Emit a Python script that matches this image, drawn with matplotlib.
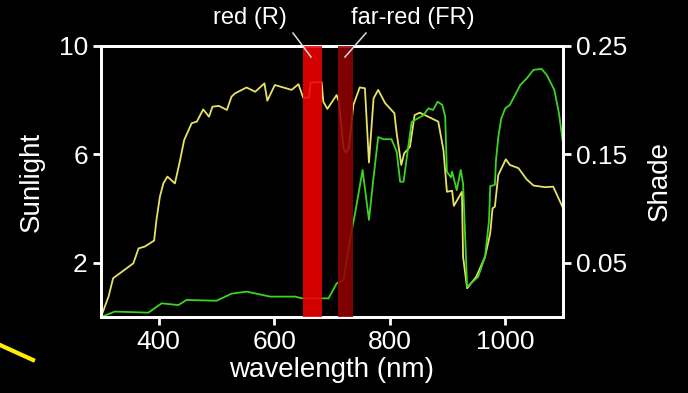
import matplotlib
matplotlib.use("Agg")
import matplotlib.pyplot as plt
from matplotlib.lines import Line2D

# ---- data ----
sun_nm = [300, 313, 321, 356, 365, 376, 392, 396, 402, 408,
          415, 428, 437, 444, 457, 466, 477, 487, 493, 504,
          518, 526, 532, 552, 567, 583, 588, 601, 630, 642,
          650, 660, 663, 682, 685, 692, 708, 712, 720, 724,
          729, 737, 748, 757, 764, 772, 780, 792, 808, 812,
          820, 825, 835, 843, 852, 884, 893, 899, 908, 911,
          925, 927, 934, 950, 965, 974, 978, 982, 988, 1001,
          1008, 1023, 1037, 1049, 1069, 1083, 1099]
sun_val = [0.0, 0.75, 1.43, 1.98, 2.53, 2.6, 2.82, 3.58, 4.44, 4.93,
           5.18, 4.93, 5.79, 6.53, 7.15, 7.21, 7.66, 7.39, 7.76, 7.79,
           7.64, 8.13, 8.25, 8.47, 8.31, 8.62, 7.98, 8.56, 8.38, 8.59,
           8.1, 8.09, 8.65, 8.67, 7.94, 7.68, 8.19, 7.94, 6.22, 6.06,
           6.22, 7.82, 8.47, 8.44, 5.7, 8.07, 8.38, 7.89, 7.52, 6.78,
           5.61, 6.04, 6.28, 7.45, 7.54, 7.21, 6.16, 4.62, 4.66, 4.1,
           4.62, 2.22, 1.06, 1.49, 2.22, 3.09, 4.01, 4.07, 5.24, 5.82,
           5.61, 5.49, 5.08, 4.85, 4.79, 4.81, 4.07]

shade_nm = [300, 324, 382, 405, 434, 448, 500, 526, 552, 593,
            636, 648, 694, 708, 720, 731, 740, 753, 764, 772,
            780, 789, 803, 812, 818, 824, 832, 838, 858, 867,
            875, 883, 891, 896, 899, 906, 908, 916, 923, 927,
            934, 953, 965, 972, 974, 982, 984, 988, 993, 1000,
            1008, 1026, 1037, 1049, 1063, 1072, 1085, 1093, 1100]
shade_val = [0.0, 0.005, 0.004, 0.0126, 0.011, 0.0157, 0.015, 0.0215, 0.0234, 0.0188,
             0.0188, 0.0172, 0.0172, 0.031, 0.034, 0.071, 0.0957, 0.1356, 0.0895, 0.129,
             0.166, 0.164, 0.164, 0.1525, 0.1248, 0.1248, 0.157, 0.18, 0.186, 0.1925,
             0.191, 0.1986, 0.1956, 0.1848, 0.134, 0.1288, 0.134, 0.117, 0.1356, 0.123,
             0.028, 0.037, 0.0555, 0.0895, 0.1208, 0.1218, 0.1448, 0.166, 0.183, 0.1925,
             0.1956, 0.214, 0.22, 0.228, 0.2288, 0.2232, 0.2094, 0.188, 0.16]

red_band = (650, 683)
farred_band = (711, 736)

x_ticks = [400, 600, 800, 1000]
sun_ticks = [2, 6, 10]
shade_ticks = [0.05, 0.15, 0.25]
shade_ticklabels = ["0.05", "0.15", "0.25"]

# ---- style ----
plt.rcParams['font.family'] = ['Liberation Sans', 'DejaVu Sans']
W = 'white'
fig = plt.figure(figsize=(6.88, 3.93), dpi=100, facecolor='black')
ax = fig.add_axes([0.1468, 0.1934, 0.6715, 0.6896])
ax.set_facecolor('black')
ax2 = ax.twinx()

ax.plot(sun_nm, sun_val, color='#e8e264', lw=1.3, zorder=2)
ax2.plot(shade_nm, shade_val, color='#3cd422', lw=1.3, zorder=2)

ax2.axvspan(*red_band, color='#f00000', alpha=0.88, lw=0, zorder=3)
ax2.axvspan(*farred_band, color='#900000', alpha=0.88, lw=0, zorder=3)

ax.set_xlim(300, 1100)
ax.set_ylim(0, 10)
ax2.set_ylim(0, 0.25)

ax.set_xticks(x_ticks)
ax.set_yticks(sun_ticks)
ax2.set_yticks(shade_ticks)
ax2.set_yticklabels(shade_ticklabels)

for a in (ax, ax2):
    for s in a.spines.values():
        s.set_color(W)
        s.set_linewidth(2)
    a.tick_params(colors=W, labelcolor=W, labelsize=19, width=2, length=6, direction='out')

ax.set_xlabel('wavelength (nm)', color=W, fontsize=20, labelpad=2)
ax.set_ylabel('Sunlight', color=W, fontsize=20, labelpad=10)
ax2.set_ylabel('Shade', color=W, fontsize=20, labelpad=14)

# annotations
fig.add_artist(Line2D([293 / 688, 311 / 688], [1 - 33 / 393, 1 - 57 / 393],
                      color='#dddddd', lw=1.1, transform=fig.transFigure))
fig.add_artist(Line2D([366 / 688, 345 / 688], [1 - 33 / 393, 1 - 57 / 393],
                      color='#dddddd', lw=1.1, transform=fig.transFigure))
fig.text(250 / 688, 1 - 18 / 393, 'red (R)', color=W, fontsize=17, ha='center', va='center')
fig.text(413 / 688, 1 - 18 / 393, 'far-red (FR)', color=W, fontsize=17, ha='center', va='center')

# stray yellow stroke at lower left
fig.add_artist(Line2D([0 / 688, 33 / 688], [1 - 345 / 393, 1 - 360 / 393],
                      color='#ffee00', lw=3, transform=fig.transFigure))

fig.savefig('out.png', dpi=100, facecolor='black')
